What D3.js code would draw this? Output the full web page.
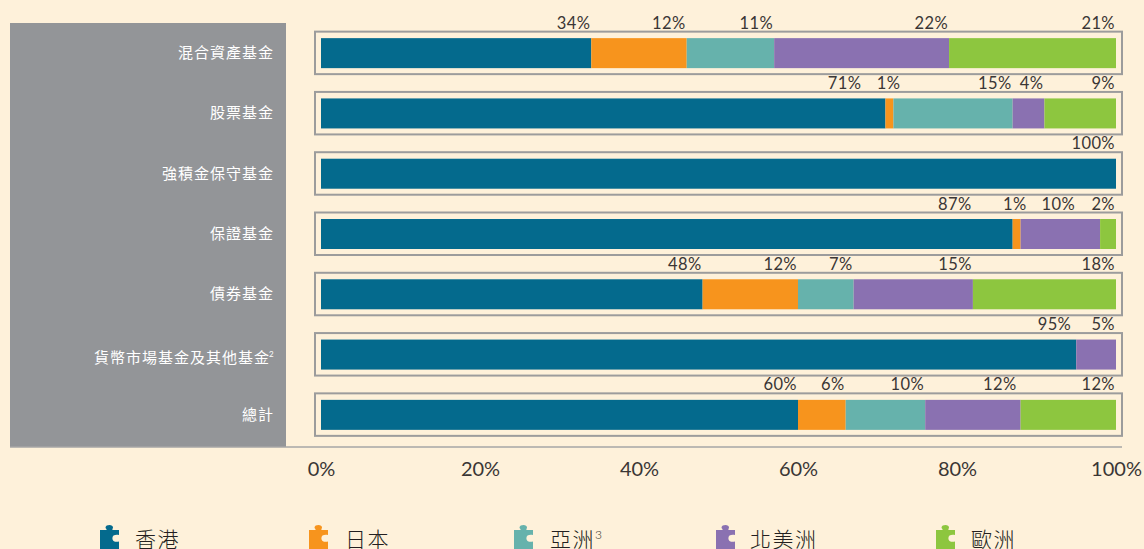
<!DOCTYPE html>
<html>
<head>
<meta charset="utf-8">
<script src="https://cdn.jsdelivr.net/npm/d3@7"></script>
<style>
  html, body { margin: 0; padding: 0; background: #fef1da; overflow: hidden; }
  svg { display: block; }
  text { font-family: Lato, "Noto Sans CJK TC", sans-serif; }
</style>
</head>
<body>
<svg id="chart" width="1144" height="549"></svg>
<script>
// Chart data
const categories = ['混合資產基金', '股票基金', '強積金保守基金', '保證基金', '債券基金', '貨幣市場基金及其他基金', '總計'];
const regions = ['香港', '日本', '亞洲', '北美洲', '歐洲'];
const hongKong = [34, 71, 100, 87, 48, 95, 60];
const japan = [12, 1, 0, 1, 12, 0, 6];
const asia = [11, 15, 0, 0, 7, 0, 10];
const northAmerica = [22, 4, 0, 10, 15, 5, 12];
const europe = [21, 9, 0, 2, 18, 0, 12];
const seriesValues = [hongKong, japan, asia, northAmerica, europe];
const xTicks = [0, 20, 40, 60, 80, 100];
const regionColors = ['#046a8d', '#f7941d', '#66b2ac', '#8a71b1', '#8dc63f'];

// Hand placed labels in the original, px from the segment end (row index -> series index)
const labelNudge = {
    1: { 0: -23, 1: 8 },
    3: { 0: -40, 1: 7, 3: -24 },
    5: { 0: -4 },
    6: { 3: -3 }
};

const svg = d3.select('#chart');
const x = d3.scaleLinear().domain([0, 100]).range([321, 1116]);
const y = d3.scaleBand().domain(d3.range(categories.length)).range([24, 446]).paddingInner(0).paddingOuter(0);
const barHeight = 30;
const barY = i => y(i) + y.bandwidth() / 2 - barHeight / 2 - 1;

// Grey label panel
svg.append('rect').attr('x', 10).attr('y', 23).attr('width', 276).attr('height', 424).attr('fill', '#939598');

// Baseline
svg.append('line')
    .attr('x1', 10).attr('x2', 1122).attr('y1', 447).attr('y2', 447)
    .attr('stroke', '#a6a6a6').attr('stroke-width', 1.5);

// Row frames
svg.append('g').selectAll('rect')
    .data(categories)
    .enter().append('rect')
    .attr('x', 315)
    .attr('y', (d, i) => barY(i) - 6.5)
    .attr('width', 807)
    .attr('height', barHeight + 12.5)
    .attr('fill', 'none')
    .attr('stroke', '#9c9c9c')
    .attr('stroke-width', 2);

// Category labels
svg.append('g').selectAll('text')
    .data(categories)
    .enter().append('text')
    .attr('x', (d, i) => i === 5 ? 270 : 274)
    .attr('y', (d, i) => barY(i) + barHeight / 2 + (i === 5 ? 8 : 5))
    .attr('text-anchor', 'end')
    .attr('fill', '#fff')
    .attr('font-size', 15)
    .attr('letter-spacing', 1)
    .text(d => d);
svg.append('text')
    .attr('x', 269).attr('y', barY(5) + 17)
    .attr('fill', '#fff').attr('font-size', 8)
    .text('2');

// Stacked bars and value labels
const cumulative = categories.map(() => 0);
seriesValues.forEach((values, s) => {
    const g = svg.append('g');
    values.forEach((v, i) => {
        const start = cumulative[i];
        cumulative[i] += v;
        if (v === 0) return;
        g.append('rect')
            .attr('x', x(start))
            .attr('y', barY(i))
            .attr('width', x(start + v) - x(start))
            .attr('height', barHeight)
            .attr('fill', regionColors[s]);
        const nudge = (labelNudge[i] && labelNudge[i][s]) || 0;
        g.append('text')
            .attr('x', x(start + v) - 1 + nudge)
            .attr('y', barY(i) - 9.5)
            .attr('text-anchor', 'end')
            .attr('fill', '#3a3635')
            .attr('font-size', 16.5)
            .attr('letter-spacing', 0.4)
            .text(v + '%');
    });
});

// X axis
const axis = svg.append('g')
    .attr('transform', 'translate(0,447)')
    .call(d3.axisBottom(x).tickValues(xTicks).tickSize(0).tickPadding(15).tickFormat(d => d + '%'));
axis.select('.domain').remove();
axis.selectAll('text')
    .attr('fill', '#3a3635')
    .attr('font-size', 20)
    .attr('font-family', 'Lato, sans-serif');

// Legend, puzzle piece markers
const legendIconX = [100, 309, 514, 716, 936];
const legendTextX = [135, 345, 550, 750, 971];
const puzzle = 'M0,5 H6.5 C7,4 5.5,3.5 5.5,2.5 C5.5,0.8 7.5,0 9.5,0 C11.5,0 13,1 13,2.5 C13,3.5 12,4 12.5,5 H19 V10 C17.5,9.5 15,9.5 13.5,10.5 C12,12 12,14.5 13.5,16 C15,17 17.5,17 19,16.5 V24 H0 Z';
const legend = svg.append('g');
regions.forEach((name, i) => {
    legend.append('path')
        .attr('d', puzzle)
        .attr('transform', `translate(${legendIconX[i]},525)`)
        .attr('fill', regionColors[i]);
    const t = legend.append('text')
        .attr('x', legendTextX[i])
        .attr('y', 547)
        .attr('fill', '#231f20')
        .attr('font-size', 21)
        .attr('font-weight', 300)
        .attr('letter-spacing', 1.5)
        .text(name);
    if (i === 2) {
        t.append('tspan').attr('font-size', 12).attr('dy', -8).attr('letter-spacing', 0).text('3');
    }
});
</script>
</body>
</html>
